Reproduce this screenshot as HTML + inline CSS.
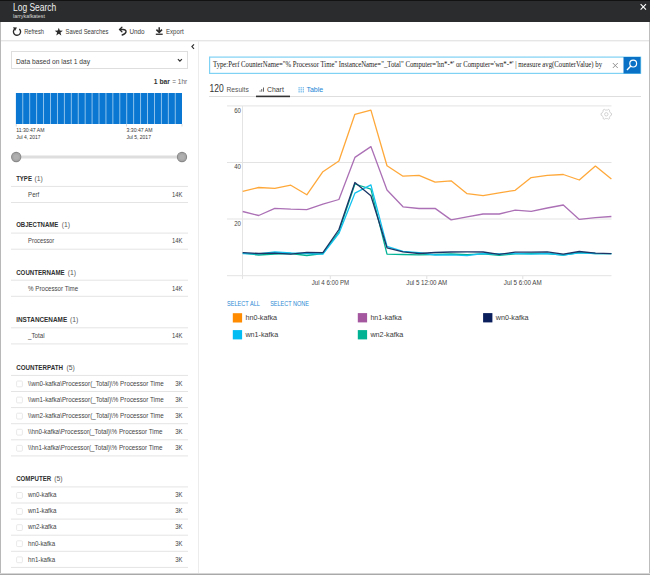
<!DOCTYPE html>
<html><head><meta charset="utf-8"><title>Log Search</title>
<style>
html,body{margin:0;padding:0;background:#fff;}
body{width:650px;height:575px;overflow:hidden;position:relative;font-family:"Liberation Sans", sans-serif;}
svg{position:absolute;left:0;top:0;display:block;}
</style></head><body>
<svg width="650" height="575" viewBox="0 0 650 575">
<rect x="0" y="0" width="650" height="22" fill="#2a2c2d" />
<rect x="0" y="0" width="650" height="1" fill="#121212" />
<text x="13" y="11.0" font-size="10.0" fill="#f0f0f0" font-weight="400" text-anchor="start" font-family='"Liberation Sans", sans-serif' textLength="43.3" lengthAdjust="spacingAndGlyphs">Log Search</text>
<text x="13" y="18.0" font-size="5.6" fill="#d8d8d8" font-weight="400" text-anchor="start" font-family='"Liberation Sans", sans-serif' textLength="32" lengthAdjust="spacingAndGlyphs">larrykafkatest</text>
<path d="M640.6 4.2 L646 9.6 M646 4.2 L640.6 9.6" stroke="#fff" stroke-width="1.15" fill="none"/>
<rect x="0" y="40.3" width="650" height="1" fill="#dcdcdc" />
<path d="M19.3 28.9 A3.6 3.6 0 1 1 14.6 29.0" stroke="#2b2b2b" stroke-width="1.35" fill="none"/>
<path d="M13.0 27.3 L17.0 27.6 L15.0 31.0 Z" fill="#2b2b2b"/>
<text x="24.2" y="33.9" font-size="6.7" fill="#3a3a3a" font-weight="400" text-anchor="start" font-family='"Liberation Sans", sans-serif' textLength="19.8" lengthAdjust="spacingAndGlyphs">Refresh</text>
<path d="M58.80 27.70 L59.83 30.58 L62.89 30.67 L60.46 32.54 L61.33 35.48 L58.80 33.75 L56.27 35.48 L57.14 32.54 L54.71 30.67 L57.77 30.58 Z" fill="#2b2b2b"/>
<text x="65.5" y="33.9" font-size="6.7" fill="#3a3a3a" font-weight="400" text-anchor="start" font-family='"Liberation Sans", sans-serif' textLength="42.8" lengthAdjust="spacingAndGlyphs">Saved Searches</text>
<path d="M121.9 27.3 L119.6 29.5 L121.9 31.7" stroke="#2b2b2b" stroke-width="1.3" fill="none" stroke-linecap="round"/>
<path d="M119.8 29.5 L123.0 29.5 C127.2 29.5 127.2 33.2 122.2 35.0" stroke="#2b2b2b" stroke-width="1.35" fill="none" stroke-linecap="round"/>
<text x="129.4" y="33.9" font-size="6.7" fill="#3a3a3a" font-weight="400" text-anchor="start" font-family='"Liberation Sans", sans-serif' textLength="15.1" lengthAdjust="spacingAndGlyphs">Undo</text>
<path d="M159.2 27.2 L159.2 32.6 M156.4 29.6 L159.2 32.4 L162.0 29.6" stroke="#2b2b2b" stroke-width="1.5" fill="none"/>
<rect x="155.8" y="33.6" width="6.9" height="1.3" fill="#2b2b2b" />
<text x="166" y="33.9" font-size="6.7" fill="#3a3a3a" font-weight="400" text-anchor="start" font-family='"Liberation Sans", sans-serif' textLength="17.6" lengthAdjust="spacingAndGlyphs">Export</text>
<rect x="0" y="22" width="1" height="553" fill="#b8b8b8" />
<rect x="649" y="22" width="1" height="553" fill="#bdbdbd" />
<rect x="0" y="573" width="650" height="1" fill="#d6d6d6" />
<rect x="0" y="574" width="650" height="1" fill="#a9a9a9" />
<rect x="198" y="41" width="1" height="532" fill="#ececec" />
<path d="M194.0 44.3 L191.9 46.6 L194.0 48.9" stroke="#333" stroke-width="1.2" fill="none"/>
<rect x="11.5" y="51.5" width="176" height="17" fill="#fff" stroke="#dedede" stroke-width="1"/>
<text x="16" y="64.1" font-size="7.1" fill="#3a3a3a" font-weight="400" text-anchor="start" font-family='"Liberation Sans", sans-serif' textLength="74" lengthAdjust="spacingAndGlyphs">Data based on last 1 day</text>
<path d="M177.9 59.1 L179.9 61.1 L181.9 59.1" stroke="#333" stroke-width="1.2" fill="none"/>
<text x="153.8" y="84.1" font-size="6.6" fill="#333" font-weight="700" text-anchor="start" font-family='"Liberation Sans", sans-serif' textLength="16.2" lengthAdjust="spacingAndGlyphs">1 bar</text>
<text x="172.3" y="84.1" font-size="6.6" fill="#666" font-weight="400" text-anchor="start" font-family='"Liberation Sans", sans-serif' textLength="14.9" lengthAdjust="spacingAndGlyphs">= 1hr</text>
<rect x="15.9" y="93" width="166.1" height="31" fill="#0a77d2" />
<rect x="22.33" y="93" width="0.9" height="31" fill="#9ccaee" />
<rect x="29.259999999999998" y="93" width="0.9" height="31" fill="#9ccaee" />
<rect x="36.19" y="93" width="0.9" height="31" fill="#9ccaee" />
<rect x="43.12" y="93" width="0.9" height="31" fill="#9ccaee" />
<rect x="50.05" y="93" width="0.9" height="31" fill="#9ccaee" />
<rect x="56.98" y="93" width="0.9" height="31" fill="#9ccaee" />
<rect x="63.91" y="93" width="0.9" height="31" fill="#9ccaee" />
<rect x="70.84" y="93" width="0.9" height="31" fill="#9ccaee" />
<rect x="77.77" y="93" width="0.9" height="31" fill="#9ccaee" />
<rect x="84.7" y="93" width="0.9" height="31" fill="#9ccaee" />
<rect x="91.63" y="93" width="0.9" height="31" fill="#9ccaee" />
<rect x="98.56" y="93" width="0.9" height="31" fill="#9ccaee" />
<rect x="105.49000000000001" y="93" width="0.9" height="31" fill="#9ccaee" />
<rect x="112.42" y="93" width="0.9" height="31" fill="#9ccaee" />
<rect x="119.35" y="93" width="0.9" height="31" fill="#9ccaee" />
<rect x="126.28" y="93" width="0.9" height="31" fill="#9ccaee" />
<rect x="133.21" y="93" width="0.9" height="31" fill="#9ccaee" />
<rect x="140.14" y="93" width="0.9" height="31" fill="#9ccaee" />
<rect x="147.07" y="93" width="0.9" height="31" fill="#9ccaee" />
<rect x="154.0" y="93" width="0.9" height="31" fill="#9ccaee" />
<rect x="160.93" y="93" width="0.9" height="31" fill="#9ccaee" />
<rect x="167.85999999999999" y="93" width="0.9" height="31" fill="#9ccaee" />
<rect x="174.79" y="93" width="0.9" height="31" fill="#9ccaee" />
<rect x="15.799999999999999" y="124" width="0.8" height="2.5" fill="#d0d0d0" />
<rect x="126.19999999999999" y="124" width="0.8" height="2.5" fill="#d0d0d0" />
<rect x="181.6" y="124" width="0.8" height="2.5" fill="#d0d0d0" />
<text x="16.2" y="132.4" font-size="5.4" fill="#333" font-weight="400" text-anchor="start" font-family='"Liberation Sans", sans-serif' textLength="28.3" lengthAdjust="spacingAndGlyphs">11:30:47 AM</text>
<text x="16.2" y="138.5" font-size="5.4" fill="#333" font-weight="400" text-anchor="start" font-family='"Liberation Sans", sans-serif' textLength="24.2" lengthAdjust="spacingAndGlyphs">Jul 4, 2017</text>
<text x="126.6" y="132.4" font-size="5.4" fill="#333" font-weight="400" text-anchor="start" font-family='"Liberation Sans", sans-serif' textLength="25.9" lengthAdjust="spacingAndGlyphs">3:30:47 AM</text>
<text x="126.6" y="138.5" font-size="5.4" fill="#333" font-weight="400" text-anchor="start" font-family='"Liberation Sans", sans-serif' textLength="24.3" lengthAdjust="spacingAndGlyphs">Jul 5, 2017</text>
<rect x="16" y="155.5" width="166" height="3" fill="#dedede" />
<circle cx="16.2" cy="157" r="4.6" fill="#a8a8a8" stroke="#8a8a8a" stroke-width="1.1"/>
<circle cx="16.2" cy="157" r="2.6" fill="#b0b0b0"/>
<circle cx="182" cy="157" r="4.6" fill="#a8a8a8" stroke="#8a8a8a" stroke-width="1.1"/>
<circle cx="182" cy="157" r="2.6" fill="#b0b0b0"/>
<text x="16.2" y="180.70000000000002" font-size="6.7" fill="#2e2e2e" font-weight="700" text-anchor="start" font-family='"Liberation Sans", sans-serif' textLength="15.7" lengthAdjust="spacingAndGlyphs">TYPE</text>
<text x="34.6" y="180.70000000000002" font-size="6.7" fill="#555" font-weight="400" text-anchor="start" font-family='"Liberation Sans", sans-serif' textLength="8.3" lengthAdjust="spacingAndGlyphs">(1)</text>
<rect x="11" y="185.9" width="177" height="1" fill="#e4e4e4" />
<text x="28.1" y="196.70000000000002" font-size="6.7" fill="#444" font-weight="400" text-anchor="start" font-family='"Liberation Sans", sans-serif' textLength="11.1" lengthAdjust="spacingAndGlyphs">Perf</text>
<text x="182.5" y="196.70000000000002" font-size="6.7" fill="#444" font-weight="400" text-anchor="end" font-family='"Liberation Sans", sans-serif' textLength="10.5" lengthAdjust="spacingAndGlyphs">14K</text>
<rect x="11" y="202.0" width="177" height="1" fill="#e4e4e4" />
<text x="16.2" y="227.4" font-size="6.7" fill="#2e2e2e" font-weight="700" text-anchor="start" font-family='"Liberation Sans", sans-serif' textLength="42.1" lengthAdjust="spacingAndGlyphs">OBJECTNAME</text>
<text x="61.8" y="227.4" font-size="6.7" fill="#555" font-weight="400" text-anchor="start" font-family='"Liberation Sans", sans-serif' textLength="8.3" lengthAdjust="spacingAndGlyphs">(1)</text>
<rect x="11" y="232.6" width="177" height="1" fill="#e4e4e4" />
<text x="28.1" y="243.4" font-size="6.7" fill="#444" font-weight="400" text-anchor="start" font-family='"Liberation Sans", sans-serif' textLength="26.1" lengthAdjust="spacingAndGlyphs">Processor</text>
<text x="182.5" y="243.4" font-size="6.7" fill="#444" font-weight="400" text-anchor="end" font-family='"Liberation Sans", sans-serif' textLength="10.5" lengthAdjust="spacingAndGlyphs">14K</text>
<rect x="11" y="248.7" width="177" height="1" fill="#e4e4e4" />
<text x="16.2" y="274.5" font-size="6.7" fill="#2e2e2e" font-weight="700" text-anchor="start" font-family='"Liberation Sans", sans-serif' textLength="48.4" lengthAdjust="spacingAndGlyphs">COUNTERNAME</text>
<text x="67.7" y="274.5" font-size="6.7" fill="#555" font-weight="400" text-anchor="start" font-family='"Liberation Sans", sans-serif' textLength="8.3" lengthAdjust="spacingAndGlyphs">(1)</text>
<rect x="11" y="279.7" width="177" height="1" fill="#e4e4e4" />
<text x="28.1" y="290.5" font-size="6.7" fill="#444" font-weight="400" text-anchor="start" font-family='"Liberation Sans", sans-serif' textLength="50.1" lengthAdjust="spacingAndGlyphs">% Processor Time</text>
<text x="182.5" y="290.5" font-size="6.7" fill="#444" font-weight="400" text-anchor="end" font-family='"Liberation Sans", sans-serif' textLength="10.5" lengthAdjust="spacingAndGlyphs">14K</text>
<rect x="11" y="295.8" width="177" height="1" fill="#e4e4e4" />
<text x="16.2" y="322.1" font-size="6.7" fill="#2e2e2e" font-weight="700" text-anchor="start" font-family='"Liberation Sans", sans-serif' textLength="51" lengthAdjust="spacingAndGlyphs">INSTANCENAME</text>
<text x="70" y="322.1" font-size="6.7" fill="#555" font-weight="400" text-anchor="start" font-family='"Liberation Sans", sans-serif' textLength="8.3" lengthAdjust="spacingAndGlyphs">(1)</text>
<rect x="11" y="327.3" width="177" height="1" fill="#e4e4e4" />
<text x="28.1" y="338.1" font-size="6.7" fill="#444" font-weight="400" text-anchor="start" font-family='"Liberation Sans", sans-serif' textLength="16.5" lengthAdjust="spacingAndGlyphs">_Total</text>
<text x="182.5" y="338.1" font-size="6.7" fill="#444" font-weight="400" text-anchor="end" font-family='"Liberation Sans", sans-serif' textLength="10.5" lengthAdjust="spacingAndGlyphs">14K</text>
<rect x="11" y="343.40000000000003" width="177" height="1" fill="#e4e4e4" />
<text x="16.2" y="369.7" font-size="6.7" fill="#2e2e2e" font-weight="700" text-anchor="start" font-family='"Liberation Sans", sans-serif' textLength="46.8" lengthAdjust="spacingAndGlyphs">COUNTERPATH</text>
<text x="66.6" y="369.7" font-size="6.7" fill="#555" font-weight="400" text-anchor="start" font-family='"Liberation Sans", sans-serif' textLength="8.3" lengthAdjust="spacingAndGlyphs">(5)</text>
<rect x="11" y="374.9" width="177" height="1" fill="#e4e4e4" />
<rect x="16.6" y="381.0" width="5.8" height="5.8" fill="#fff" stroke="#e2e2e2" stroke-width="0.8" rx="1"/>
<text x="28.1" y="385.7" font-size="6.7" fill="#444" font-weight="400" text-anchor="start" font-family='"Liberation Sans", sans-serif' textLength="135.6" lengthAdjust="spacingAndGlyphs">\\wn0-kafka\Processor(_Total)\% Processor Time</text>
<text x="182.5" y="385.7" font-size="6.7" fill="#444" font-weight="400" text-anchor="end" font-family='"Liberation Sans", sans-serif' textLength="7.3" lengthAdjust="spacingAndGlyphs">3K</text>
<rect x="11" y="391.0" width="177" height="1" fill="#e4e4e4" />
<rect x="16.6" y="397.1" width="5.8" height="5.8" fill="#fff" stroke="#e2e2e2" stroke-width="0.8" rx="1"/>
<text x="28.1" y="401.8" font-size="6.7" fill="#444" font-weight="400" text-anchor="start" font-family='"Liberation Sans", sans-serif' textLength="135.6" lengthAdjust="spacingAndGlyphs">\\wn1-kafka\Processor(_Total)\% Processor Time</text>
<text x="182.5" y="401.8" font-size="6.7" fill="#444" font-weight="400" text-anchor="end" font-family='"Liberation Sans", sans-serif' textLength="7.3" lengthAdjust="spacingAndGlyphs">3K</text>
<rect x="11" y="407.1" width="177" height="1" fill="#e4e4e4" />
<rect x="16.6" y="413.2" width="5.8" height="5.8" fill="#fff" stroke="#e2e2e2" stroke-width="0.8" rx="1"/>
<text x="28.1" y="417.9" font-size="6.7" fill="#444" font-weight="400" text-anchor="start" font-family='"Liberation Sans", sans-serif' textLength="135.6" lengthAdjust="spacingAndGlyphs">\\wn2-kafka\Processor(_Total)\% Processor Time</text>
<text x="182.5" y="417.9" font-size="6.7" fill="#444" font-weight="400" text-anchor="end" font-family='"Liberation Sans", sans-serif' textLength="7.3" lengthAdjust="spacingAndGlyphs">3K</text>
<rect x="11" y="423.2" width="177" height="1" fill="#e4e4e4" />
<rect x="16.6" y="429.3" width="5.8" height="5.8" fill="#fff" stroke="#e2e2e2" stroke-width="0.8" rx="1"/>
<text x="28.1" y="434.0" font-size="6.7" fill="#444" font-weight="400" text-anchor="start" font-family='"Liberation Sans", sans-serif' textLength="134.3" lengthAdjust="spacingAndGlyphs">\\hn0-kafka\Processor(_Total)\% Processor Time</text>
<text x="182.5" y="434.0" font-size="6.7" fill="#444" font-weight="400" text-anchor="end" font-family='"Liberation Sans", sans-serif' textLength="7.3" lengthAdjust="spacingAndGlyphs">3K</text>
<rect x="11" y="439.3" width="177" height="1" fill="#e4e4e4" />
<rect x="16.6" y="445.4" width="5.8" height="5.8" fill="#fff" stroke="#e2e2e2" stroke-width="0.8" rx="1"/>
<text x="28.1" y="450.09999999999997" font-size="6.7" fill="#444" font-weight="400" text-anchor="start" font-family='"Liberation Sans", sans-serif' textLength="134.3" lengthAdjust="spacingAndGlyphs">\\hn1-kafka\Processor(_Total)\% Processor Time</text>
<text x="182.5" y="450.09999999999997" font-size="6.7" fill="#444" font-weight="400" text-anchor="end" font-family='"Liberation Sans", sans-serif' textLength="7.3" lengthAdjust="spacingAndGlyphs">3K</text>
<rect x="11" y="455.4" width="177" height="1" fill="#e4e4e4" />
<text x="16.2" y="481.2" font-size="6.7" fill="#2e2e2e" font-weight="700" text-anchor="start" font-family='"Liberation Sans", sans-serif' textLength="35" lengthAdjust="spacingAndGlyphs">COMPUTER</text>
<text x="54.3" y="481.2" font-size="6.7" fill="#555" font-weight="400" text-anchor="start" font-family='"Liberation Sans", sans-serif' textLength="8.3" lengthAdjust="spacingAndGlyphs">(5)</text>
<rect x="11" y="486.4" width="177" height="1" fill="#e4e4e4" />
<rect x="16.6" y="492.5" width="5.8" height="5.8" fill="#fff" stroke="#e2e2e2" stroke-width="0.8" rx="1"/>
<text x="28.1" y="497.2" font-size="6.7" fill="#444" font-weight="400" text-anchor="start" font-family='"Liberation Sans", sans-serif' textLength="28.3" lengthAdjust="spacingAndGlyphs">wn0-kafka</text>
<text x="182.5" y="497.2" font-size="6.7" fill="#444" font-weight="400" text-anchor="end" font-family='"Liberation Sans", sans-serif' textLength="7.3" lengthAdjust="spacingAndGlyphs">3K</text>
<rect x="11" y="502.5" width="177" height="1" fill="#e4e4e4" />
<rect x="16.6" y="508.6" width="5.8" height="5.8" fill="#fff" stroke="#e2e2e2" stroke-width="0.8" rx="1"/>
<text x="28.1" y="513.3" font-size="6.7" fill="#444" font-weight="400" text-anchor="start" font-family='"Liberation Sans", sans-serif' textLength="28.3" lengthAdjust="spacingAndGlyphs">wn1-kafka</text>
<text x="182.5" y="513.3" font-size="6.7" fill="#444" font-weight="400" text-anchor="end" font-family='"Liberation Sans", sans-serif' textLength="7.3" lengthAdjust="spacingAndGlyphs">3K</text>
<rect x="11" y="518.6" width="177" height="1" fill="#e4e4e4" />
<rect x="16.6" y="524.7" width="5.8" height="5.8" fill="#fff" stroke="#e2e2e2" stroke-width="0.8" rx="1"/>
<text x="28.1" y="529.4" font-size="6.7" fill="#444" font-weight="400" text-anchor="start" font-family='"Liberation Sans", sans-serif' textLength="28.3" lengthAdjust="spacingAndGlyphs">wn2-kafka</text>
<text x="182.5" y="529.4" font-size="6.7" fill="#444" font-weight="400" text-anchor="end" font-family='"Liberation Sans", sans-serif' textLength="7.3" lengthAdjust="spacingAndGlyphs">3K</text>
<rect x="11" y="534.7" width="177" height="1" fill="#e4e4e4" />
<rect x="16.6" y="540.8" width="5.8" height="5.8" fill="#fff" stroke="#e2e2e2" stroke-width="0.8" rx="1"/>
<text x="28.1" y="545.4999999999999" font-size="6.7" fill="#444" font-weight="400" text-anchor="start" font-family='"Liberation Sans", sans-serif' textLength="27" lengthAdjust="spacingAndGlyphs">hn0-kafka</text>
<text x="182.5" y="545.4999999999999" font-size="6.7" fill="#444" font-weight="400" text-anchor="end" font-family='"Liberation Sans", sans-serif' textLength="7.3" lengthAdjust="spacingAndGlyphs">3K</text>
<rect x="11" y="550.8" width="177" height="1" fill="#e4e4e4" />
<rect x="16.6" y="556.9" width="5.8" height="5.8" fill="#fff" stroke="#e2e2e2" stroke-width="0.8" rx="1"/>
<text x="28.1" y="561.5999999999999" font-size="6.7" fill="#444" font-weight="400" text-anchor="start" font-family='"Liberation Sans", sans-serif' textLength="27" lengthAdjust="spacingAndGlyphs">hn1-kafka</text>
<text x="182.5" y="561.5999999999999" font-size="6.7" fill="#444" font-weight="400" text-anchor="end" font-family='"Liberation Sans", sans-serif' textLength="7.3" lengthAdjust="spacingAndGlyphs">3K</text>
<rect x="11" y="566.9" width="177" height="1" fill="#e4e4e4" />
<rect x="209.6" y="57.1" width="431" height="16.3" fill="#fff" stroke="#7fd2f4" stroke-width="1.2"/>
<text x="213" y="66.6" font-size="7.6" fill="#222" font-weight="400" text-anchor="start" font-family='"Liberation Serif", serif' textLength="389" lengthAdjust="spacingAndGlyphs">Type:Perf CounterName="% Processor Time" InstanceName="_Total" Computer='hn*-*' or Computer='wn*-*' | measure avg(CounterValue) by</text>
<path d="M612.8 63 L617.8 68 M617.8 63 L612.8 68" stroke="#888" stroke-width="0.9" fill="none"/>
<rect x="623.5" y="57" width="17" height="16.5" fill="#0a72c6" />
<circle cx="633.2" cy="63.6" r="3.4" fill="none" stroke="#fff" stroke-width="1.2"/>
<path d="M630.8 66.1 L627.0 69.9" stroke="#fff" stroke-width="1.4"/>
<text x="209.6" y="91.8" font-size="10.0" fill="#333" font-weight="400" text-anchor="start" font-family='"Liberation Sans", sans-serif' textLength="14.2" lengthAdjust="spacingAndGlyphs">120</text>
<text x="226.5" y="91.8" font-size="6.9" fill="#555" font-weight="400" text-anchor="start" font-family='"Liberation Sans", sans-serif' textLength="22.3" lengthAdjust="spacingAndGlyphs">Results</text>
<rect x="259.6" y="90.5" width="0.9" height="1.2" fill="#555" />
<rect x="261.3" y="89" width="0.9" height="2.7" fill="#555" />
<rect x="263" y="87.5" width="0.9" height="4.2" fill="#555" />
<text x="267" y="91.8" font-size="7.5" fill="#3a3a3a" font-weight="400" text-anchor="start" font-family='"Liberation Sans", sans-serif' textLength="16.8" lengthAdjust="spacingAndGlyphs">Chart</text>
<rect x="298.5" y="87.2" width="1.2" height="1.2" fill="#5aaee8" />
<rect x="298.5" y="89.2" width="1.2" height="1.2" fill="#5aaee8" />
<rect x="298.5" y="91.2" width="1.2" height="1.2" fill="#5aaee8" />
<rect x="300.6" y="87.2" width="1.2" height="1.2" fill="#5aaee8" />
<rect x="300.6" y="89.2" width="1.2" height="1.2" fill="#5aaee8" />
<rect x="300.6" y="91.2" width="1.2" height="1.2" fill="#5aaee8" />
<rect x="302.7" y="87.2" width="1.2" height="1.2" fill="#5aaee8" />
<rect x="302.7" y="89.2" width="1.2" height="1.2" fill="#5aaee8" />
<rect x="302.7" y="91.2" width="1.2" height="1.2" fill="#5aaee8" />
<text x="306.4" y="91.8" font-size="7.5" fill="#1a86d6" font-weight="400" text-anchor="start" font-family='"Liberation Sans", sans-serif' textLength="16.8" lengthAdjust="spacingAndGlyphs">Table</text>
<rect x="209" y="96" width="432" height="1" fill="#dedede" />
<rect x="256" y="95.6" width="34" height="1.6" fill="#333" />
<rect x="227" y="105.4" width="384.5" height="1" fill="#e3e3e3" />
<rect x="227" y="162.0" width="384.5" height="1" fill="#e3e3e3" />
<rect x="227" y="218.5" width="384.5" height="1" fill="#e3e3e3" />
<rect x="227" y="275.2" width="384.5" height="1" fill="#e3e3e3" />
<rect x="242" y="106" width="1" height="173" fill="#e4e4e4" />
<rect x="329.8" y="276" width="1" height="3" fill="#e0e0e0" />
<rect x="426.3" y="276" width="1" height="3" fill="#e0e0e0" />
<rect x="522.3" y="276" width="1" height="3" fill="#e0e0e0" />
<text x="240.9" y="112.8" font-size="6.8" fill="#444" font-weight="400" text-anchor="end" font-family='"Liberation Sans", sans-serif' textLength="6.7" lengthAdjust="spacingAndGlyphs">60</text>
<text x="240.9" y="169.1" font-size="6.8" fill="#444" font-weight="400" text-anchor="end" font-family='"Liberation Sans", sans-serif' textLength="6.7" lengthAdjust="spacingAndGlyphs">40</text>
<text x="240.9" y="225.5" font-size="6.8" fill="#444" font-weight="400" text-anchor="end" font-family='"Liberation Sans", sans-serif' textLength="6.7" lengthAdjust="spacingAndGlyphs">20</text>
<text x="311.8" y="284.7" font-size="7.0" fill="#444" font-weight="400" text-anchor="start" font-family='"Liberation Sans", sans-serif' textLength="37.4" lengthAdjust="spacingAndGlyphs">Jul 4 6:00 PM</text>
<text x="406.3" y="284.7" font-size="7.0" fill="#444" font-weight="400" text-anchor="start" font-family='"Liberation Sans", sans-serif' textLength="40.9" lengthAdjust="spacingAndGlyphs">Jul 5 12:00 AM</text>
<text x="503.8" y="284.7" font-size="7.0" fill="#444" font-weight="400" text-anchor="start" font-family='"Liberation Sans", sans-serif' textLength="37.9" lengthAdjust="spacingAndGlyphs">Jul 5 6:00 AM</text>
<path d="M610.02 112.15 L610.55 113.16 L611.53 113.47 L611.53 115.13 L610.55 115.44 L610.02 116.45 L609.41 117.41 L609.64 118.42 L608.20 119.25 L607.44 118.55 L606.30 118.60 L605.16 118.55 L604.40 119.25 L602.96 118.42 L603.19 117.41 L602.58 116.45 L602.05 115.44 L601.07 115.13 L601.07 113.47 L602.05 113.16 L602.58 112.15 L603.19 111.19 L602.96 110.18 L604.40 109.35 L605.16 110.05 L606.30 110.00 L607.44 110.05 L608.20 109.35 L609.64 110.18 L609.41 111.19Z" fill="none" stroke="#c8c8c8" stroke-width="0.8"/>
<circle cx="606.3" cy="114.3" r="1.7" fill="none" stroke="#c8c8c8" stroke-width="0.8"/>
<path d="M242.7 191.3 L258.7 187.5 L274.8 188.3 L290.8 185.2 L306.8 194.8 L322.9 171.7 L338.9 161.0 L354.9 114.3 L370.9 110.1 L387.0 165.7 L403.0 176.2 L419.0 175.3 L435.1 182.2 L451.1 180.8 L467.1 193.7 L483.1 195.7 L499.2 192.8 L515.2 190.3 L531.2 177.6 L547.3 175.4 L563.3 174.5 L579.3 180.0 L595.4 166.1 L611.4 179.1" fill="none" stroke="#ffa83a" stroke-width="1.3" stroke-linejoin="round"/>
<path d="M242.7 211.5 L258.7 215.5 L274.8 208.4 L290.8 209.2 L306.8 209.6 L322.9 204.2 L338.9 199.5 L354.9 157.4 L370.9 146.6 L387.0 190.0 L403.0 206.8 L419.0 208.5 L435.1 208.4 L451.1 219.9 L467.1 216.8 L483.1 214.0 L499.2 214.0 L515.2 210.1 L531.2 211.3 L547.3 208.0 L563.3 205.0 L579.3 219.4 L595.4 217.7 L611.4 216.5" fill="none" stroke="#ab70b5" stroke-width="1.3" stroke-linejoin="round"/>
<path d="M242.7 253.2 L258.7 255.0 L274.8 254.2 L290.8 253.5 L306.8 255.5 L322.9 253.5 L338.9 231.8 L354.9 184.0 L370.9 189.1 L387.0 254.2 L403.0 254.5 L419.0 254.8 L435.1 254.5 L451.1 254.0 L467.1 254.7 L483.1 253.8 L499.2 255.3 L515.2 253.8 L531.2 253.5 L547.3 253.5 L563.3 255.0 L579.3 252.5 L595.4 253.5 L611.4 253.7" fill="none" stroke="#00b294" stroke-width="1.3" stroke-linejoin="round"/>
<path d="M242.7 253.5 L258.7 253.8 L274.8 252.0 L290.8 253.0 L306.8 253.5 L322.9 254.2 L338.9 233.4 L354.9 193.2 L370.9 184.9 L387.0 246.4 L403.0 251.4 L419.0 252.7 L435.1 255.0 L451.1 254.8 L467.1 255.7 L483.1 253.5 L499.2 253.8 L515.2 253.5 L531.2 254.1 L547.3 253.5 L563.3 255.2 L579.3 252.8 L595.4 253.5 L611.4 253.7" fill="none" stroke="#14c3f0" stroke-width="1.3" stroke-linejoin="round"/>
<path d="M242.7 252.7 L258.7 253.5 L274.8 253.2 L290.8 254.2 L306.8 252.4 L322.9 252.7 L338.9 229.5 L354.9 182.5 L370.9 195.8 L387.0 247.8 L403.0 251.8 L419.0 253.5 L435.1 252.5 L451.1 252.0 L467.1 251.9 L483.1 252.0 L499.2 254.3 L515.2 252.2 L531.2 252.2 L547.3 251.9 L563.3 254.1 L579.3 251.5 L595.4 253.2 L611.4 253.7" fill="none" stroke="#1c3566" stroke-width="1.3" stroke-linejoin="round"/>
<text x="227" y="305.6" font-size="6.7" fill="#2a8ad4" font-weight="400" text-anchor="start" font-family='"Liberation Sans", sans-serif' textLength="32.9" lengthAdjust="spacingAndGlyphs">SELECT ALL</text>
<text x="270.2" y="305.6" font-size="6.7" fill="#2a8ad4" font-weight="400" text-anchor="start" font-family='"Liberation Sans", sans-serif' textLength="38.8" lengthAdjust="spacingAndGlyphs">SELECT NONE</text>
<rect x="232.8" y="313.2" width="9.3" height="9.3" fill="#ff8c00" />
<text x="245.4" y="320.0" font-size="7.3" fill="#3a3a3a" font-weight="400" text-anchor="start" font-family='"Liberation Sans", sans-serif' textLength="31.6" lengthAdjust="spacingAndGlyphs">hn0-kafka</text>
<rect x="357.8" y="313.1" width="9.3" height="9.3" fill="#a4579f" />
<text x="370.40000000000003" y="319.90000000000003" font-size="7.3" fill="#3a3a3a" font-weight="400" text-anchor="start" font-family='"Liberation Sans", sans-serif' textLength="31.4" lengthAdjust="spacingAndGlyphs">hn1-kafka</text>
<rect x="483.1" y="313.1" width="9.3" height="9.3" fill="#0b1f5c" />
<text x="495.70000000000005" y="319.90000000000003" font-size="7.3" fill="#3a3a3a" font-weight="400" text-anchor="start" font-family='"Liberation Sans", sans-serif' textLength="32.8" lengthAdjust="spacingAndGlyphs">wn0-kafka</text>
<rect x="232.8" y="330.1" width="9.3" height="9.3" fill="#00bcf2" />
<text x="245.4" y="336.90000000000003" font-size="7.3" fill="#3a3a3a" font-weight="400" text-anchor="start" font-family='"Liberation Sans", sans-serif' textLength="32.8" lengthAdjust="spacingAndGlyphs">wn1-kafka</text>
<rect x="357.8" y="330.1" width="9.3" height="9.3" fill="#00b294" />
<text x="370.40000000000003" y="336.90000000000003" font-size="7.3" fill="#3a3a3a" font-weight="400" text-anchor="start" font-family='"Liberation Sans", sans-serif' textLength="32.9" lengthAdjust="spacingAndGlyphs">wn2-kafka</text>
</svg>
</body></html>
